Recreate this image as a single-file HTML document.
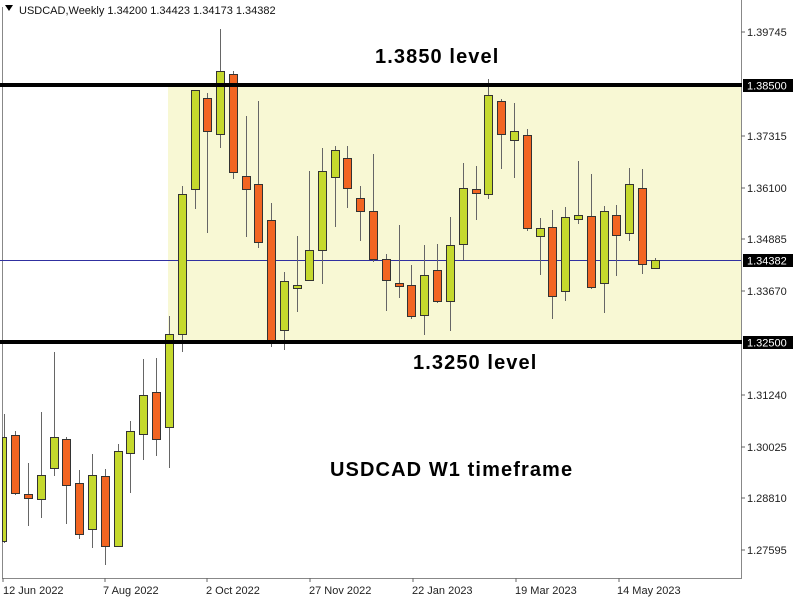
<!DOCTYPE html>
<html><head><meta charset="utf-8"><style>
html,body{margin:0;padding:0;background:#fff;}
svg{display:block;}
</style></head><body>
<svg width="799" height="600" viewBox="0 0 799 600" xmlns="http://www.w3.org/2000/svg" font-family="'Liberation Sans', sans-serif">
<rect width="799" height="600" fill="#fff"/>
<rect x="168" y="86" width="573" height="255" fill="#f8f8d4"/>
<line x1="2.5" y1="7" x2="2.5" y2="578" stroke="#888" stroke-width="1"/>
<line x1="741.5" y1="0" x2="741.5" y2="578" stroke="#888" stroke-width="1"/>
<line x1="2" y1="578.5" x2="742" y2="578.5" stroke="#888" stroke-width="1"/>
<line x1="0" y1="260.5" x2="741" y2="260.5" stroke="#3030a0" stroke-width="1"/>
<g id="c" stroke="#333" stroke-width="1">
<g stroke="#666">
<line x1="4.5" y1="414" x2="4.5" y2="543"/><line x1="15.5" y1="431" x2="15.5" y2="495"/><line x1="28.5" y1="463" x2="28.5" y2="526"/><line x1="41.5" y1="412" x2="41.5" y2="518"/><line x1="54.5" y1="352" x2="54.5" y2="476"/><line x1="66.5" y1="437" x2="66.5" y2="524"/><line x1="79.5" y1="470" x2="79.5" y2="539"/><line x1="92.5" y1="454" x2="92.5" y2="548"/><line x1="105.5" y1="469" x2="105.5" y2="565"/><line x1="118.5" y1="444" x2="118.5" y2="547"/><line x1="130.5" y1="421" x2="130.5" y2="493"/><line x1="143.5" y1="359" x2="143.5" y2="460"/><line x1="156.5" y1="358" x2="156.5" y2="456"/><line x1="169.5" y1="316" x2="169.5" y2="468"/><line x1="182.5" y1="186" x2="182.5" y2="352"/><line x1="195.5" y1="90" x2="195.5" y2="209"/><line x1="207.5" y1="93" x2="207.5" y2="233"/><line x1="220.5" y1="29" x2="220.5" y2="148"/><line x1="233.5" y1="71" x2="233.5" y2="179"/><line x1="246.5" y1="116" x2="246.5" y2="237"/><line x1="258.5" y1="101" x2="258.5" y2="248"/><line x1="271.5" y1="203" x2="271.5" y2="347"/><line x1="284.5" y1="272" x2="284.5" y2="350"/><line x1="297.5" y1="236" x2="297.5" y2="312"/><line x1="309.5" y1="171" x2="309.5" y2="280"/><line x1="322.5" y1="148" x2="322.5" y2="284"/><line x1="335.5" y1="146" x2="335.5" y2="227"/><line x1="347.5" y1="146" x2="347.5" y2="208"/><line x1="360.5" y1="186" x2="360.5" y2="241"/><line x1="373.5" y1="154" x2="373.5" y2="262"/><line x1="386.5" y1="254" x2="386.5" y2="311"/><line x1="399.5" y1="225" x2="399.5" y2="298"/><line x1="411.5" y1="265" x2="411.5" y2="319"/><line x1="424.5" y1="245" x2="424.5" y2="335"/><line x1="437.5" y1="244" x2="437.5" y2="303"/><line x1="450.5" y1="217" x2="450.5" y2="331"/><line x1="463.5" y1="163" x2="463.5" y2="260"/><line x1="476.5" y1="166" x2="476.5" y2="220"/><line x1="488.5" y1="79" x2="488.5" y2="199"/><line x1="501.5" y1="99" x2="501.5" y2="169"/><line x1="514.5" y1="103" x2="514.5" y2="178"/><line x1="527.5" y1="129" x2="527.5" y2="231"/><line x1="540.5" y1="218" x2="540.5" y2="275"/><line x1="552.5" y1="210" x2="552.5" y2="319"/><line x1="565.5" y1="207" x2="565.5" y2="301"/><line x1="578.5" y1="161" x2="578.5" y2="224"/><line x1="591.5" y1="174" x2="591.5" y2="289"/><line x1="604.5" y1="206" x2="604.5" y2="313"/><line x1="616.5" y1="205" x2="616.5" y2="276"/><line x1="629.5" y1="168" x2="629.5" y2="241"/><line x1="642.5" y1="169" x2="642.5" y2="274"/><line x1="655.5" y1="258" x2="655.5" y2="269"/>
</g>
<g fill="#c5d92d">
<rect x="2.5" y="437.5" width="4" height="104"/><rect x="37.5" y="475.5" width="8" height="24"/><rect x="50.5" y="437.5" width="8" height="31"/><rect x="88.5" y="475.5" width="8" height="54"/><rect x="114.5" y="451.5" width="8" height="95"/><rect x="126.5" y="431.5" width="8" height="22"/><rect x="139.5" y="395.5" width="8" height="39"/><rect x="165.5" y="334.5" width="8" height="93"/><rect x="178.5" y="194.5" width="8" height="140"/><rect x="191.5" y="90.5" width="8" height="99"/><rect x="216.5" y="71.5" width="8" height="63"/><rect x="280.5" y="281.5" width="8" height="49"/><rect x="293.5" y="285.5" width="8" height="3"/><rect x="305.5" y="250.5" width="8" height="30"/><rect x="318.5" y="171.5" width="8" height="79"/><rect x="331.5" y="150.5" width="8" height="27"/><rect x="420.5" y="275.5" width="8" height="40"/><rect x="446.5" y="245.5" width="8" height="56"/><rect x="459.5" y="188.5" width="8" height="56"/><rect x="484.5" y="95.5" width="8" height="99"/><rect x="510.5" y="131.5" width="8" height="9"/><rect x="536.5" y="228.5" width="8" height="8"/><rect x="561.5" y="217.5" width="8" height="74"/><rect x="574.5" y="215.5" width="8" height="4"/><rect x="600.5" y="211.5" width="8" height="72"/><rect x="625.5" y="184.5" width="8" height="49"/><rect x="651.5" y="260.5" width="8" height="8"/>
</g>
<g fill="#f26522">
<rect x="11.5" y="435.5" width="8" height="58"/><rect x="24.5" y="494.5" width="8" height="4"/><rect x="62.5" y="439.5" width="8" height="46"/><rect x="75.5" y="483.5" width="8" height="51"/><rect x="101.5" y="476.5" width="8" height="70"/><rect x="152.5" y="392.5" width="8" height="47"/><rect x="203.5" y="98.5" width="8" height="33"/><rect x="229.5" y="74.5" width="8" height="98"/><rect x="242.5" y="176.5" width="8" height="13"/><rect x="254.5" y="184.5" width="8" height="58"/><rect x="267.5" y="220.5" width="8" height="123"/><rect x="343.5" y="158.5" width="8" height="30"/><rect x="356.5" y="198.5" width="8" height="13"/><rect x="369.5" y="211.5" width="8" height="48"/><rect x="382.5" y="259.5" width="8" height="21"/><rect x="395.5" y="283.5" width="8" height="3"/><rect x="407.5" y="285.5" width="8" height="31"/><rect x="433.5" y="270.5" width="8" height="31"/><rect x="472.5" y="189.5" width="8" height="4"/><rect x="497.5" y="101.5" width="8" height="33"/><rect x="523.5" y="135.5" width="8" height="93"/><rect x="548.5" y="227.5" width="8" height="69"/><rect x="587.5" y="216.5" width="8" height="71"/><rect x="612.5" y="215.5" width="8" height="20"/><rect x="638.5" y="188.5" width="8" height="76"/>
</g>
</g>
<rect x="0" y="83" width="742" height="4" fill="#000"/>
<rect x="0" y="340" width="742" height="4" fill="#000"/>
<g font-size="11" fill="#222">
<line x1="741" y1="32" x2="745" y2="32" stroke="#666"/><text x="747" y="36">1.39745</text>
<line x1="741" y1="136" x2="745" y2="136" stroke="#666"/><text x="747" y="140">1.37315</text>
<line x1="741" y1="188" x2="745" y2="188" stroke="#666"/><text x="747" y="192">1.36100</text>
<line x1="741" y1="239" x2="745" y2="239" stroke="#666"/><text x="747" y="243">1.34885</text>
<line x1="741" y1="291" x2="745" y2="291" stroke="#666"/><text x="747" y="295">1.33670</text>
<line x1="741" y1="395" x2="745" y2="395" stroke="#666"/><text x="747" y="399">1.31240</text>
<line x1="741" y1="447" x2="745" y2="447" stroke="#666"/><text x="747" y="451">1.30025</text>
<line x1="741" y1="498" x2="745" y2="498" stroke="#666"/><text x="747" y="502">1.28810</text>
<line x1="741" y1="550" x2="745" y2="550" stroke="#666"/><text x="747" y="554">1.27595</text>
</g>
<g font-size="11">
<rect x="743" y="79" width="50" height="13" fill="#000"/><text x="747" y="89.5" fill="#fff">1.38500</text>
<rect x="743" y="254" width="50" height="13" fill="#000"/><text x="747" y="264.5" fill="#fff">1.34382</text>
<rect x="743" y="336" width="50" height="13" fill="#000"/><text x="747" y="346.5" fill="#fff">1.32500</text>
</g>
<g font-size="11" fill="#222">
<text x="3" y="594">12 Jun 2022</text><text x="103" y="594">7 Aug 2022</text><text x="206" y="594">2 Oct 2022</text><text x="309" y="594">27 Nov 2022</text><text x="412" y="594">22 Jan 2023</text><text x="515" y="594">19 Mar 2023</text><text x="617" y="594">14 May 2023</text>
<line x1="3" y1="578" x2="3" y2="582" stroke="#666"/><line x1="105" y1="578" x2="105" y2="582" stroke="#666"/><line x1="207" y1="578" x2="207" y2="582" stroke="#666"/><line x1="310" y1="578" x2="310" y2="582" stroke="#666"/><line x1="413" y1="578" x2="413" y2="582" stroke="#666"/><line x1="516" y1="578" x2="516" y2="582" stroke="#666"/><line x1="619" y1="578" x2="619" y2="582" stroke="#666"/>
</g>
<path d="M5 5 L13 5 L9 11 Z" fill="#000"/>
<text x="19" y="14" font-size="11" fill="#111">USDCAD,Weekly  1.34200 1.34423 1.34173 1.34382</text>
<g font-size="20" font-weight="bold" fill="#000" letter-spacing="1.1">
<text x="375" y="63">1.3850 level</text>
<text x="413" y="369">1.3250 level</text>
<text x="330" y="476">USDCAD W1 timeframe</text>
</g>
</svg>
</body></html>
